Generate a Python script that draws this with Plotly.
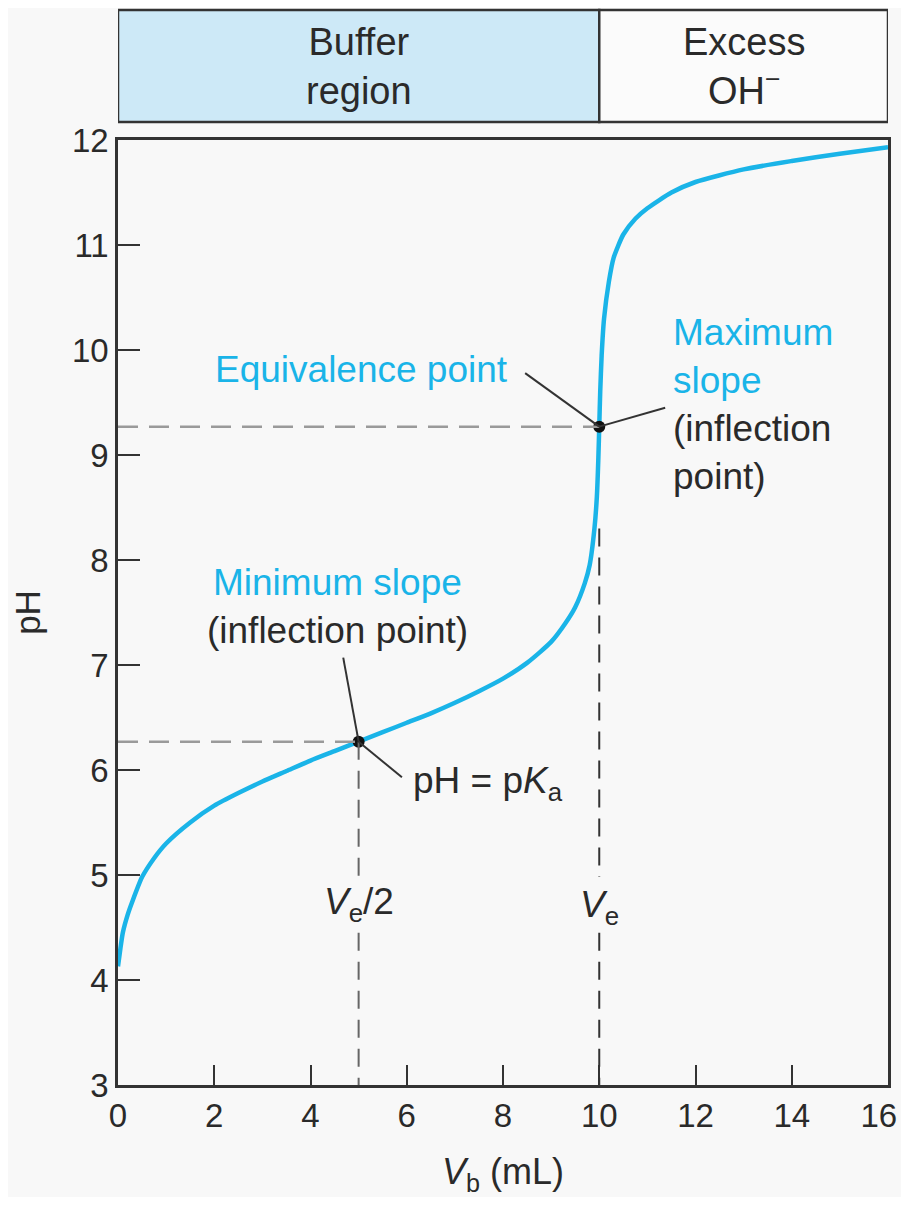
import plotly.graph_objects as go

# ---- data ----
vb_ml = [0, 0.05, 0.1, 0.2, 0.3, 0.5, 0.75, 1, 1.5, 2, 2.5, 3, 3.5, 4, 4.5, 5,
         5.5, 6, 6.5, 7, 7.5, 8, 8.5, 9, 9.3, 9.5, 9.7, 9.8, 9.9, 9.95, 9.98,
         10, 10.02, 10.05, 10.1, 10.2, 10.3, 10.5, 10.75, 11, 11.5, 12, 13, 14, 15, 16]
ph = [4.13, 4.30, 4.45, 4.62, 4.75, 4.98, 5.16, 5.30, 5.50, 5.66, 5.78, 5.89, 5.99, 6.09, 6.18, 6.27,
      6.36, 6.45, 6.54, 6.64, 6.75, 6.87, 7.02, 7.22, 7.40, 7.55, 7.78, 7.95, 8.30, 8.60, 8.95,
      9.27, 9.60, 9.95, 10.30, 10.65, 10.88, 11.10, 11.25, 11.35, 11.50, 11.60, 11.72, 11.80, 11.87, 11.93]

ve = 10.0          # equivalence volume (mL)
ph_eq = 9.27       # pH at equivalence point
half_ve = 5.0
pka = 6.27

x_ticks = [0, 2, 4, 6, 8, 10, 12, 14, 16]
x_ticktext = ["0", "2", "4", "6", "8", "10", "12", "14", "16\u00a0\u00a0"]
y_ticks = [3, 4, 5, 6, 7, 8, 9, 10, 11, 12]
regions = ["Buffer<br>region", "Excess<br>OH<sup>−</sup>"]

CYAN = "#1ab4e8"
DARK = "#333333"
TXT = "#2a2a2a"
GRAY = "#9a9a9a"
BG = "#f8f8f8"
FONT = "Liberation Sans, Arial, sans-serif"

fig = go.Figure()

fig.add_trace(go.Scatter(x=vb_ml, y=ph, mode="lines",
                         line=dict(color=CYAN, width=4.5, shape="spline", smoothing=0.6),
                         hoverinfo="skip", showlegend=False))

shapes = []
dash_g = "20px,11px"
dash_k = "18px,11px"
# dashed guides
shapes.append(dict(type="line", xref="x", yref="y", x0=0, x1=ve, y0=ph_eq, y1=ph_eq,
                   line=dict(color=GRAY, width=2.5, dash=dash_g)))
shapes.append(dict(type="line", xref="x", yref="y", x0=0, x1=half_ve, y0=pka, y1=pka,
                   line=dict(color=GRAY, width=2.5, dash=dash_g)))
shapes.append(dict(type="line", xref="x", yref="y", x0=half_ve, x1=half_ve, y0=pka, y1=4.98,
                   line=dict(color="#666666", width=2, dash=dash_k)))
shapes.append(dict(type="line", xref="x", yref="y", x0=half_ve, x1=half_ve, y0=4.45, y1=3,
                   line=dict(color="#666666", width=2, dash=dash_k)))
shapes.append(dict(type="line", xref="x", yref="y", x0=ve, x1=ve, y0=8.3, y1=4.98,
                   line=dict(color=DARK, width=2, dash=dash_k)))
shapes.append(dict(type="line", xref="x", yref="y", x0=ve, x1=ve, y0=4.45, y1=3,
                   line=dict(color=DARK, width=2, dash=dash_k)))
# leader lines
shapes.append(dict(type="line", xref="x", yref="y", x0=8.46, y0=9.78, x1=ve, y1=ph_eq,
                   line=dict(color=DARK, width=2)))
shapes.append(dict(type="line", xref="x", yref="y", x0=ve, y0=ph_eq, x1=11.37, y1=9.45,
                   line=dict(color=DARK, width=2)))
shapes.append(dict(type="line", xref="x", yref="y", x0=4.68, y0=7.07, x1=half_ve, y1=pka,
                   line=dict(color=DARK, width=2)))
shapes.append(dict(type="line", xref="x", yref="y", x0=half_ve, y0=pka, x1=5.90, y1=5.93,
                   line=dict(color=DARK, width=2)))
# top region boxes
shapes.append(dict(type="rect", xref="x", yref="paper", x0=0, x1=ve, y0=1.019, y1=1.1376,
                   fillcolor="#cde9f7", line=dict(color=DARK, width=2.5), layer="below"))
shapes.append(dict(type="rect", xref="x", yref="paper", x0=ve, x1=16, y0=1.019, y1=1.1376,
                   fillcolor="#fbfbfb", line=dict(color=DARK, width=2.5), layer="below"))

fig.add_trace(go.Scatter(x=[half_ve, ve], y=[pka, ph_eq], mode="markers",
                         marker=dict(color="#111111", size=12),
                         hoverinfo="skip", showlegend=False))

fs = 37
ann = []
ann.append(dict(x=5, y=1.078, xref="x", yref="paper", text=regions[0], showarrow=False,
                yanchor="middle", font=dict(size=38, color=TXT), align="center"))
ann.append(dict(x=13, y=1.078, xref="x", yref="paper", text=regions[1], showarrow=False,
                yanchor="middle", font=dict(size=38, color=TXT), align="center"))
ann.append(dict(x=8.15, y=9.81, xref="x", yref="y", text="Equivalence point", showarrow=False,
                xanchor="right", yanchor="middle", font=dict(size=fs, color=CYAN)))
ann.append(dict(x=11.5, y=9.48, xref="x", yref="y",
                text="<span style='color:%s'>Maximum<br>slope</span><br>(inflection<br>point)" % CYAN,
                showarrow=False, xanchor="left", yanchor="middle", align="left",
                font=dict(size=fs, color=TXT)))
ann.append(dict(x=4.57, y=7.79, xref="x", yref="y", text="Minimum slope", showarrow=False,
                yanchor="middle", font=dict(size=fs, color=CYAN)))
ann.append(dict(x=4.57, y=7.33, xref="x", yref="y", text="(inflection point)", showarrow=False,
                yanchor="middle", font=dict(size=fs, color=TXT)))
ann.append(dict(x=6.08, y=5.88, xref="x", yref="y", text="pH = p<i>K</i><sub>a</sub>",
                showarrow=False, xanchor="left", yanchor="middle", font=dict(size=fs, color=TXT)))
ann.append(dict(x=half_ve, y=4.72, xref="x", yref="y", text="<i>V</i><sub>e</sub>/2",
                showarrow=False, yanchor="middle", font=dict(size=fs, color=TXT)))
ann.append(dict(x=ve, y=4.70, xref="x", yref="y", text="<i>V</i><sub>e</sub>",
                showarrow=False, yanchor="middle", font=dict(size=fs, color=TXT)))

fig.update_layout(
    width=893, height=1189,
    margin=dict(l=110, r=13, t=132, b=112, autoexpand=False),
    paper_bgcolor=BG, plot_bgcolor=BG,
    font=dict(family=FONT, size=32, color=TXT),
    shapes=shapes, annotations=ann, showlegend=False,
    xaxis=dict(range=[0, 16], tickvals=x_ticks, ticktext=x_ticktext,
               ticks="inside", ticklen=20, tickwidth=2,
               tickcolor=DARK, showline=True, linecolor=DARK, linewidth=2.5, mirror=True,
               showgrid=False, zeroline=False, tickfont=dict(size=33), automargin=False,
               ticklabeloverflow="allow",
               title=dict(text="<i>V</i><sub>b</sub> (mL)", standoff=26, font=dict(size=36))),
    yaxis=dict(range=[3, 12], tickvals=y_ticks, ticks="inside", ticklen=22, tickwidth=2,
               tickcolor=DARK, showline=True, linecolor=DARK, linewidth=2.5, mirror=True,
               showgrid=False, zeroline=False, tickfont=dict(size=33), automargin=False,
               title=dict(text="pH", standoff=33, font=dict(size=35))),
)

fig.write_html("out.html")
